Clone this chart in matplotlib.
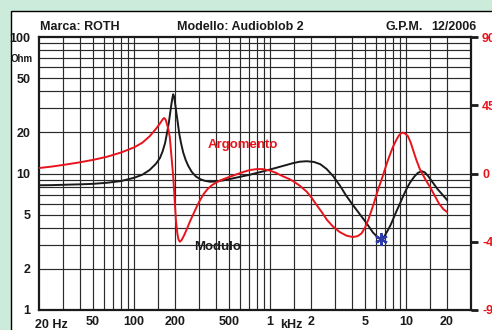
import numpy as np
import matplotlib.pyplot as plt
from matplotlib.patches import Rectangle

plt.rcParams['font.family'] = ['Liberation Sans', 'DejaVu Sans']
plt.rcParams['font.weight'] = 'bold'

# Modulo dell'impedenza (Ohm)
freq_mod = [20, 25, 32, 40, 50, 63, 80, 100, 115, 130, 145, 155, 162, 169, 175, 180, 184,
            188, 191, 194, 197, 200, 204, 209, 215, 222, 230, 240, 250, 265, 285, 306, 330,
            363, 400, 450, 530, 600, 711, 800, 900, 1000, 1180, 1300, 1470, 1650, 1860,
            2100, 2340, 2600, 2900, 3250, 3620, 4000, 4520, 5100, 5700, 6100, 6500, 6900,
            7300, 7700, 8000, 8500, 9000, 9500, 10000, 10700, 11500, 12200, 13000, 13700,
            14500, 15700, 17000, 18500, 20000]
z_mod = [8.2, 8.22, 8.28, 8.33, 8.4, 8.55, 8.8, 9.3, 9.8, 10.6, 11.8, 13.0, 14.5, 16.7, 20,
         23.5, 27.5, 32, 35.5, 38, 36.5, 33, 28.5, 24, 19.5, 16.5, 14.2, 12.5, 11.4, 10.3,
         9.5, 9.1, 8.85, 8.7, 8.75, 8.9, 9.2, 9.45, 9.8, 10.1, 10.4, 10.7, 11.2, 11.5, 11.9,
         12.2, 12.3, 12.15, 11.7, 10.8, 9.6, 8.2, 6.9, 6.0, 5.1, 4.35, 3.7, 3.45, 3.32, 3.45,
         3.8, 4.2, 4.6, 5.3, 6.0, 6.8, 7.6, 8.6, 9.5, 10.1, 10.4, 10.2, 9.6, 8.6, 7.7, 7.0,
         6.4]

# Argomento (gradi)
freq_arg = [20, 25, 32, 40, 50, 63, 80, 100, 115, 130, 145, 155, 162, 166, 170, 174, 179,
            183, 188, 194, 198, 203, 208, 212, 217, 224, 234, 246, 258, 272, 290, 306, 325,
            345, 370, 400, 440, 500, 570, 650, 711, 800, 880, 990, 1100, 1240, 1380, 1470,
            1650, 1860, 2020, 2200, 2400, 2620, 2900, 3250, 3650, 4060, 4400, 4700, 5000,
            5300, 5580, 5850, 6100, 6400, 6700, 7000, 7300, 7650, 8000, 8300, 8600, 8900,
            9200, 9500, 9800, 10300, 10800, 11300, 11900, 12600, 13500, 14200, 15000, 16200,
            17500, 18800, 20000]
ph_arg = [3.6, 4.6, 6.0, 7.4, 9.0, 11.0, 13.8, 17.2, 20.3, 24.5, 29.5, 33, 35.6, 36.6, 35.8,
          33, 29, 24, 12, -2, -15, -30.6, -39.5, -43.5, -45, -43.8, -40.5, -36, -31.5, -27,
          -21.5, -17.5, -13.5, -10.5, -8, -6, -4.2, -2.3, -0.5, 1.3, 2.3, 2.9, 2.9, 2.0, 0.5,
          -1.8, -3.6, -4.9, -8, -12, -16, -20.8, -25.5, -30.6, -35, -38.6, -41, -41.9, -41.3,
          -39.5, -35.5, -30, -24, -18.5, -13, -7.5, -2.3, 3, 8, 13, 17.5, 20.5, 23.2, 25.3,
          26.6, 26.9, 26.4, 24.7, 20.5, 15, 8.9, 3, -2, -5.5, -8.9, -14.5, -20, -23.5, -25.4]

fig = plt.figure(figsize=(4.92, 3.30), dpi=100)
fig.patch.set_facecolor('#cdebdb')

# pannello bianco dietro al grafico
bg = fig.add_axes([0, 0, 1, 1], zorder=-10)
bg.set_axis_off()
bg.set_xlim(0, 492)
bg.set_ylim(330, 0)
bg.add_patch(Rectangle((10.5, 10.5), 500, 340, facecolor='white',
                       edgecolor='black', lw=1.0))

ax = fig.add_axes([39 / 492, 20 / 330, 432 / 492, 273 / 330])
ax.set_facecolor('none')
ax.set_xscale('log')
ax.set_yscale('log')
ax.set_xlim(20, 30000)
ax.set_ylim(1, 100)

# griglia
xgrid = [m * d for d in [10, 100, 1000, 10000] for m in [1, 1.5, 2, 3, 4, 5, 6, 7, 8, 9]
         if 20 < m * d < 30000]
ygrid = [m * d for d in [1, 10] for m in [2, 3, 4, 5, 6, 7, 8, 9]] + [10]
for xv in xgrid:
    ax.axvline(xv, color='#2a2a2a', lw=0.85, zorder=1)
for yv in ygrid:
    ax.axhline(yv, color='#2a2a2a', lw=0.85, zorder=1)

ax.set_xticks([50, 100, 200, 500, 1000, 2000, 5000, 10000, 20000])
ax.set_xticklabels(['50', '100', '200', '500', '1', '2', '5', '10', '20'])
ax.set_xticks([], minor=True)
ax.set_yticks([1, 2, 5, 10, 20, 50, 100])
ax.set_yticklabels(['1', '2', '5', '10', '20', '50', '100'])
ax.set_yticks([], minor=True)
ax.tick_params(axis='both', length=0, labelsize=9, colors='#1a1a1a')
ax.tick_params(axis='x', pad=4)
ax.tick_params(axis='y', pad=6)
for s in ax.spines.values():
    s.set_linewidth(1.6)
    s.set_color('#1a1a1a')

ax.text(-0.01, -0.033, '20 Hz', transform=ax.transAxes, ha='left', va='top',
        fontsize=9, color='#1a1a1a')
ax.text(1440, -0.033, 'kHz', transform=ax.get_xaxis_transform(), ha='center', va='top',
        fontsize=9, color='#1a1a1a')
ax.text(-0.014, 69, 'Ohm', transform=ax.get_yaxis_transform(), ha='right', va='center',
        fontsize=7, color='#1a1a1a')

ax.plot(freq_mod, z_mod, color='#1a1a1a', lw=1.4, zorder=3)
ax.plot([6500], [3.3], marker=(6, 2, 0), color='#2b3aa8', ms=9, mew=1.6, zorder=5)

ax2 = ax.twinx()
ax2.set_ylim(-90, 90)
ax2.set_yticks([-90, -45, 0, 45, 90])
ax2.set_yticklabels(['-90', '-45', '0', '45', '90'])
ax2.tick_params(axis='y', direction='out', length=5, width=2, color='#1a1a1a',
                labelcolor='#e8141c', labelsize=9, pad=3)
for s in ax2.spines.values():
    s.set_visible(False)
ax2.plot(freq_arg, ph_arg, color='#e8141c', lw=1.4, zorder=3)

# titoli ed etichette
fig.text(40 / 492, 1 - 27 / 330, 'Marca: ROTH', ha='left', va='center', fontsize=9,
         color='#1a1a1a')
fig.text(240 / 492, 1 - 27 / 330, 'Modello: Audioblob 2', ha='center', va='center',
         fontsize=9, color='#1a1a1a')
fig.text(385 / 492, 1 - 27 / 330, 'G.P.M.', ha='left', va='center', fontsize=9,
         color='#1a1a1a')
fig.text(476 / 492, 1 - 27 / 330, '12/2006', ha='right', va='center', fontsize=9,
         color='#1a1a1a')
fig.text(243 / 492, 1 - 145 / 330, 'Argomento', ha='center', va='center', fontsize=9.5,
         color='#e8141c')
fig.text(218 / 492, 1 - 247 / 330, 'Modulo', ha='center', va='center', fontsize=9.5,
         color='#1a1a1a')

fig.savefig('out.png', dpi=100, facecolor=fig.get_facecolor())
